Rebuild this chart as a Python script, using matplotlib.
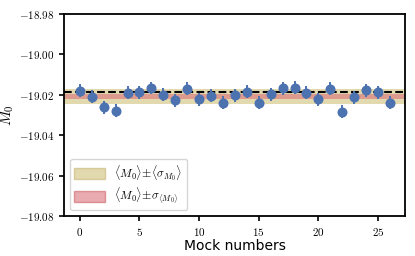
import numpy as np
import matplotlib
matplotlib.use('Agg')
import matplotlib.pyplot as plt
from matplotlib.patches import Patch
from matplotlib.ticker import FuncFormatter

plt.rcParams['mathtext.fontset'] = 'cm'

# data
mocks = np.arange(27)
m0 = [-19.0180, -19.0209, -19.0262, -19.0279, -19.0190, -19.0188, -19.0166,
      -19.0200, -19.0226, -19.0170, -19.0222, -19.0204, -19.0239, -19.0202,
      -19.0184, -19.0240, -19.0196, -19.0168, -19.0165, -19.0190, -19.0222,
      -19.0170, -19.0283, -19.0212, -19.0178, -19.0188, -19.0239]
m0_err = [0.0032] * 27
true_m0 = -19.0188
mean_m0 = -19.0209
mean_sigma = 0.0036
sigma_mean = 0.0012

fig = plt.figure(figsize=(4.15, 2.56), dpi=100)
ax = fig.add_axes([0.155, 0.156, 0.822, 0.789])

ax.axhspan(mean_m0 - mean_sigma, mean_m0 + mean_sigma, color='#d8c98e', alpha=0.7, lw=0)
ax.axhspan(mean_m0 - sigma_mean, mean_m0 + sigma_mean, color='#d9737a', alpha=0.6, lw=0)
ax.axhline(true_m0, color='k', ls='--', lw=1.5)
ax.errorbar(mocks, m0, yerr=m0_err, fmt='o', color='#4c72b0', ms=6.2,
            elinewidth=1.4, capsize=0)

ax.set_ylim(-19.08, -18.98)
ax.set_xticks([0, 5, 10, 15, 20, 25])
ax.set_yticks(np.arange(-19.08, -18.979, 0.02))
ax.xaxis.set_major_formatter(FuncFormatter(lambda v, p: r'$%d$' % v))
ax.yaxis.set_major_formatter(FuncFormatter(lambda v, p: r'$%.2f$' % v))
ax.tick_params(labelsize=8, width=1.2, length=3.5)
for s in ax.spines.values():
    s.set_linewidth(1.3)

ax.set_xlabel('Mock numbers', fontsize=10, labelpad=1)
ax.set_ylabel(r'$M_0$', fontsize=11, labelpad=2)

handles = [Patch(facecolor='#d8c98e', edgecolor='#cbbb80', alpha=0.7),
           Patch(facecolor='#d9737a', edgecolor='#cc6068', alpha=0.6)]
labels = [r'$\langle M_0\rangle\!\pm\!\langle\sigma_{M_0}\rangle$',
          r'$\langle M_0\rangle\!\pm\!\sigma_{\langle M_0\rangle}$']
ax.legend(handles, labels, loc='lower left', fontsize=8.5, handlelength=2.6,
          handleheight=1.1, labelspacing=0.25, borderpad=0.35,
          framealpha=0.8)

fig.savefig('out.png', dpi=100)
